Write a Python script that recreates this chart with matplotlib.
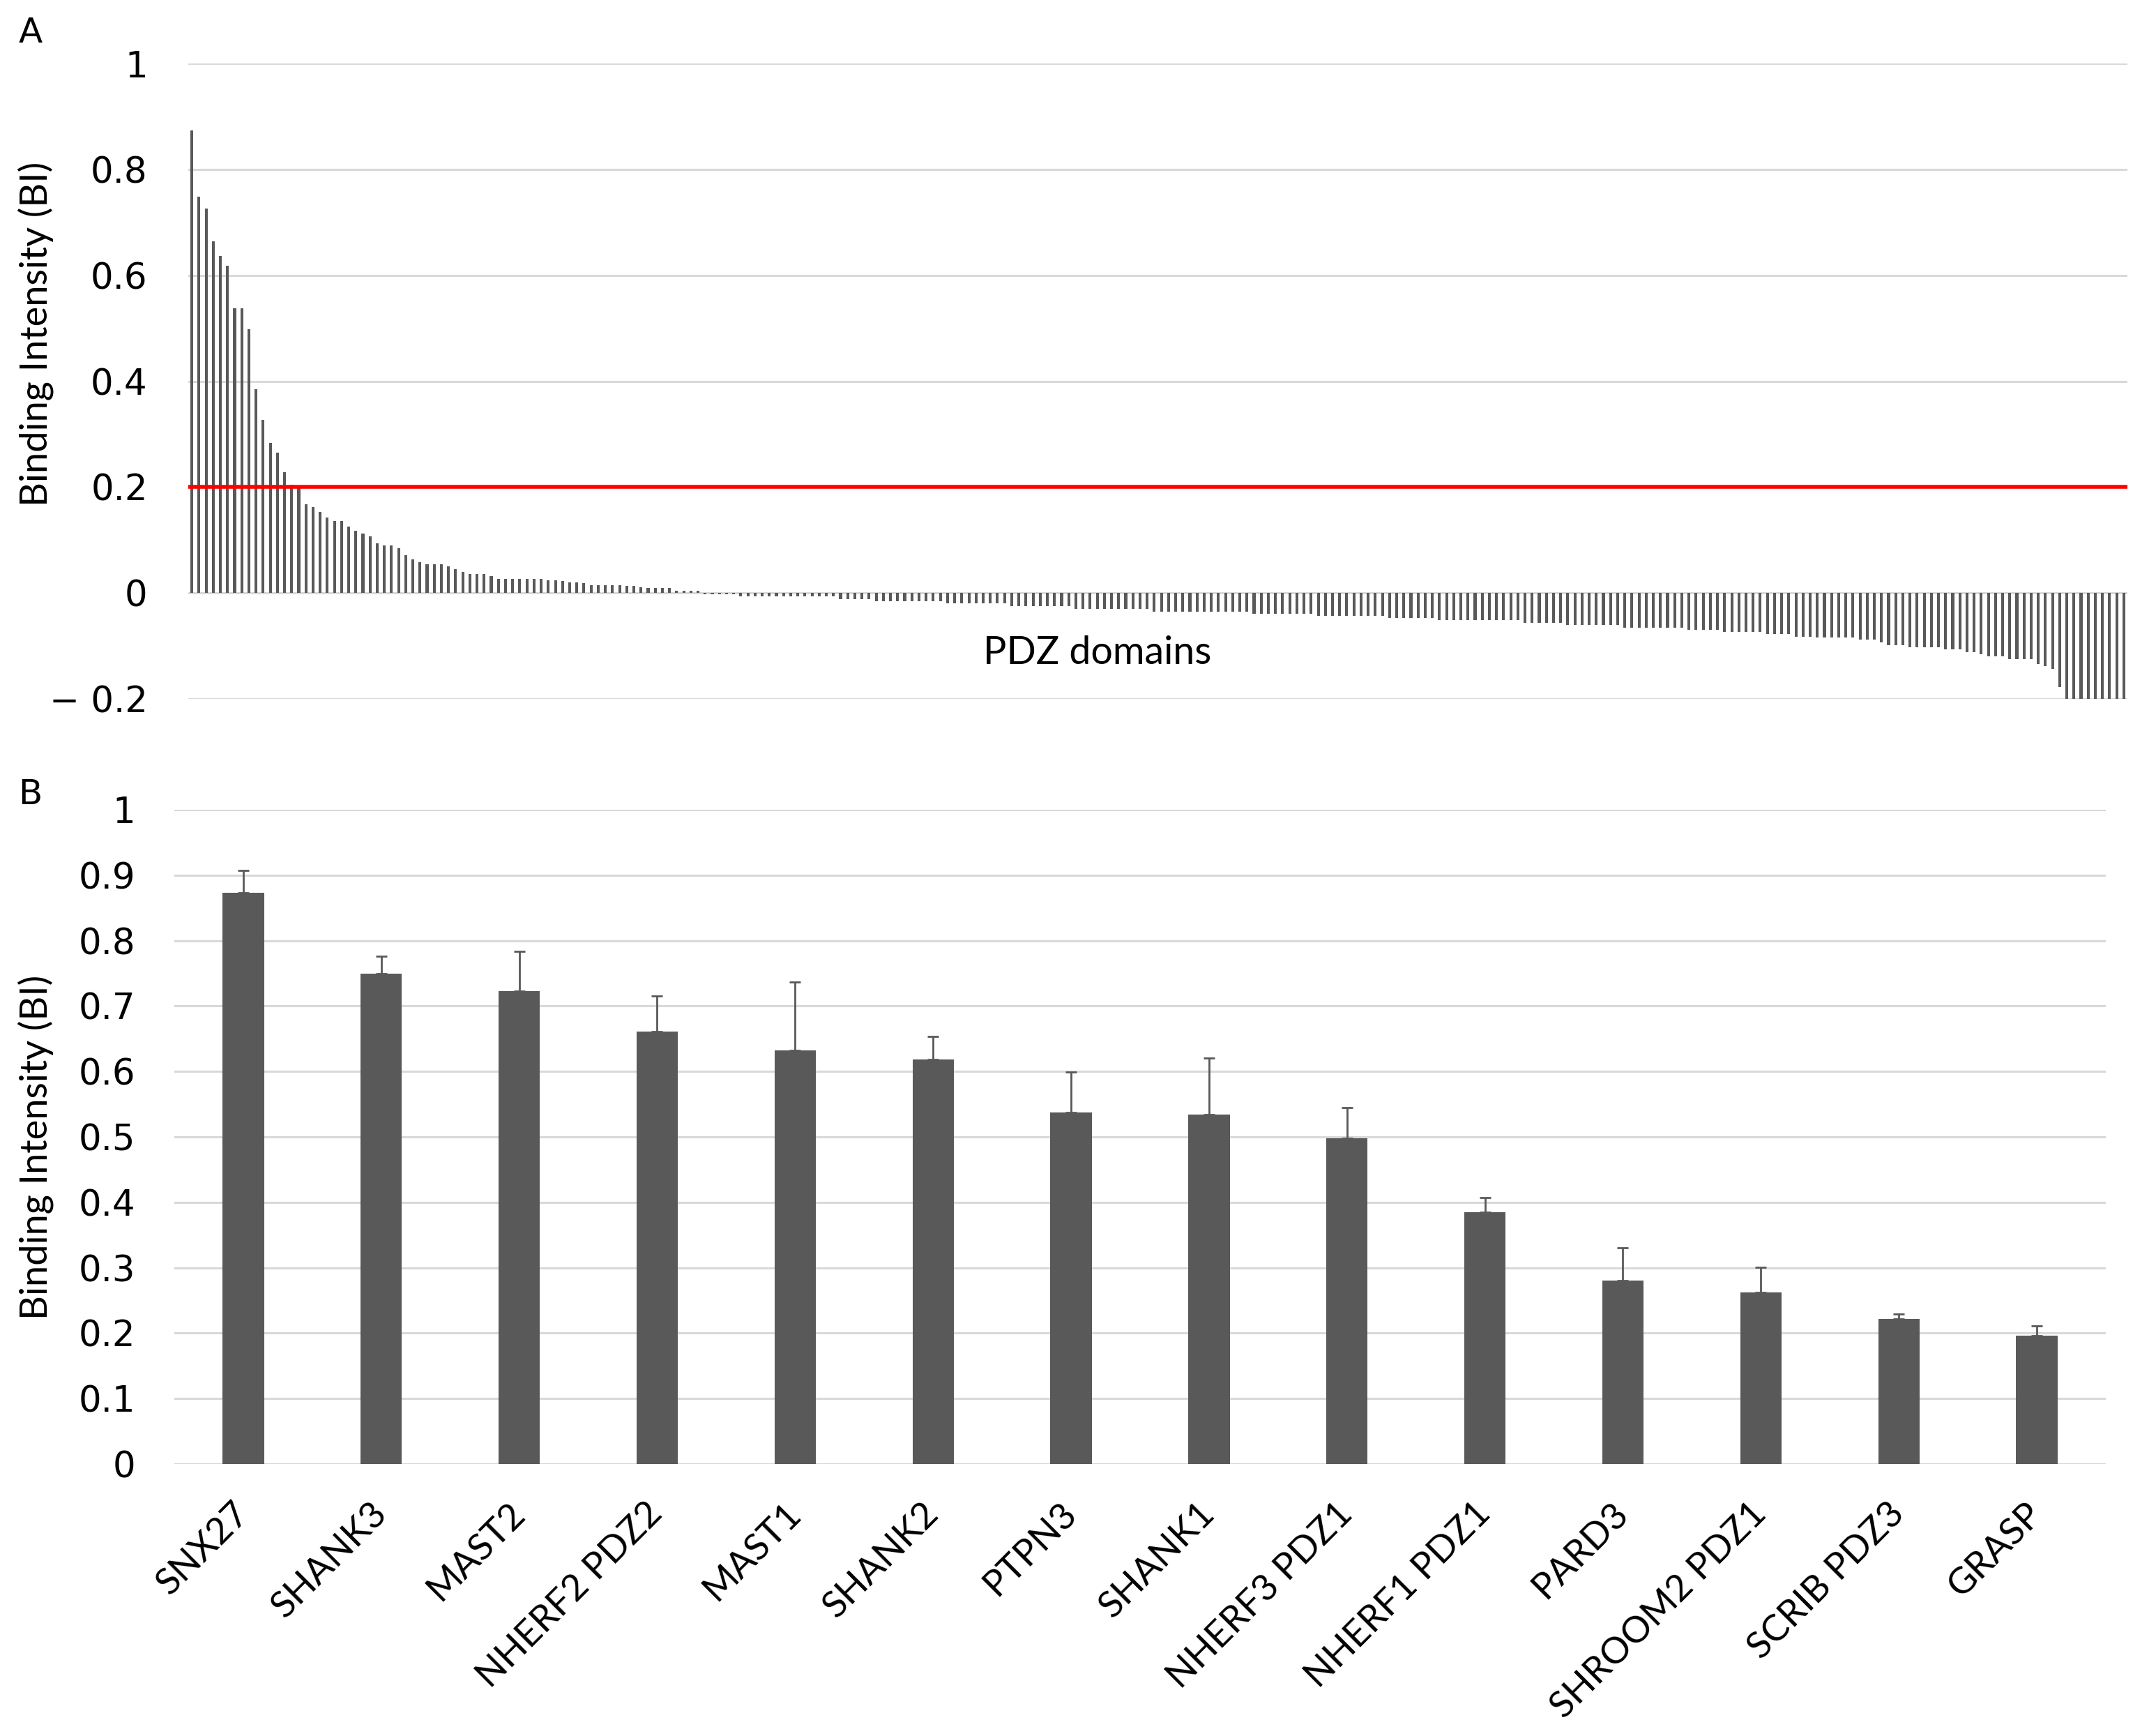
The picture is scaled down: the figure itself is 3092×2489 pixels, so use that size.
"""PDZ domain binding intensities: full screen (A) and hits above threshold (B)."""
import matplotlib.pyplot as plt
import matplotlib.ticker as tkr

plt.rcParams['font.family'] = ['DejaVu Sans']
label_font = ['Lato', 'DejaVu Sans']

bar_color = "#595959"
grid_color = "#d9d9d9"

# panel A: binding intensity of every PDZ domain, sorted
pdz_bi = [
    0.873, 0.748, 0.726, 0.664, 0.637, 0.618, 0.538, 0.538,
    0.498, 0.385, 0.327, 0.283, 0.265, 0.228, 0.205, 0.199,
    0.167, 0.162, 0.153, 0.143, 0.136, 0.136, 0.126, 0.117,
    0.112, 0.107, 0.094, 0.090, 0.090, 0.085, 0.072, 0.063,
    0.058, 0.054, 0.054, 0.054, 0.050, 0.045, 0.040, 0.036,
    0.036, 0.036, 0.032, 0.027, 0.027, 0.027, 0.027, 0.027,
    0.027, 0.026, 0.024, 0.024, 0.023, 0.020, 0.020, 0.019,
    0.015, 0.015, 0.015, 0.015, 0.015, 0.014, 0.013, 0.011,
    0.010, 0.010, 0.010, 0.010, 0.004, 0.004, 0.004, 0.004,
    -0.003, -0.003, -0.003, -0.003, -0.003, -0.007, -0.007, -0.007,
    -0.007, -0.007, -0.007, -0.007, -0.007, -0.007, -0.007, -0.007,
    -0.007, -0.007, -0.007, -0.012, -0.012, -0.012, -0.012, -0.012,
    -0.016, -0.016, -0.016, -0.016, -0.016, -0.016, -0.016, -0.016,
    -0.016, -0.016, -0.020, -0.020, -0.020, -0.020, -0.020, -0.020,
    -0.020, -0.020, -0.020, -0.025, -0.025, -0.025, -0.025, -0.025,
    -0.025, -0.025, -0.025, -0.025, -0.030, -0.030, -0.030, -0.030,
    -0.030, -0.030, -0.030, -0.030, -0.030, -0.030, -0.030, -0.035,
    -0.035, -0.035, -0.035, -0.035, -0.035, -0.035, -0.035, -0.035,
    -0.035, -0.035, -0.035, -0.035, -0.035, -0.039, -0.039, -0.039,
    -0.039, -0.039, -0.039, -0.039, -0.039, -0.039, -0.043, -0.043,
    -0.043, -0.043, -0.043, -0.043, -0.043, -0.043, -0.043, -0.043,
    -0.047, -0.047, -0.047, -0.047, -0.047, -0.047, -0.047, -0.051,
    -0.051, -0.051, -0.051, -0.051, -0.051, -0.051, -0.051, -0.051,
    -0.051, -0.051, -0.051, -0.057, -0.057, -0.057, -0.057, -0.057,
    -0.057, -0.061, -0.061, -0.061, -0.061, -0.061, -0.061, -0.061,
    -0.061, -0.065, -0.065, -0.065, -0.065, -0.065, -0.065, -0.065,
    -0.065, -0.065, -0.070, -0.070, -0.070, -0.070, -0.070, -0.074,
    -0.074, -0.074, -0.074, -0.074, -0.074, -0.078, -0.078, -0.078,
    -0.078, -0.083, -0.083, -0.083, -0.084, -0.084, -0.084, -0.084,
    -0.084, -0.084, -0.088, -0.088, -0.088, -0.093, -0.098, -0.098,
    -0.098, -0.103, -0.103, -0.103, -0.103, -0.103, -0.107, -0.107,
    -0.107, -0.112, -0.112, -0.116, -0.120, -0.120, -0.120, -0.125,
    -0.125, -0.125, -0.125, -0.134, -0.138, -0.143, -0.178, -0.21,
    -0.22, -0.24, -0.26, -0.29, -0.32, -0.36, -0.41, -0.48,
]
threshold = 0.2
ticks_a = [-0.2, 0, 0.2, 0.4, 0.6, 0.8, 1]

# panel B: domains above the threshold, mean and upper error
domains = ["SNX27", "SHANK3", "MAST2", "NHERF2 PDZ2", "MAST1", "SHANK2",
           "PTPN3", "SHANK1", "NHERF3 PDZ1", "NHERF1 PDZ1", "PARD3",
           "SHROOM2 PDZ1", "SCRIB PDZ3", "GRASP"]
bi_mean = [0.873, 0.749, 0.723, 0.661, 0.632, 0.618, 0.537, 0.534,
           0.498, 0.385, 0.280, 0.262, 0.222, 0.196]
bi_err = [0.034, 0.027, 0.061, 0.054, 0.105, 0.035, 0.062, 0.086,
          0.047, 0.022, 0.050, 0.039, 0.007, 0.015]
ticks_b = [0, 0.1, 0.2, 0.3, 0.4, 0.5, 0.6, 0.7, 0.8, 0.9, 1]


def fmt_tick(v, pos):
    if abs(v) < 1e-9:
        return "0"
    if abs(v - round(v)) < 1e-9:
        return "%d" % round(v)
    if v < 0:
        return "\u2212 %g" % abs(v)
    return "%g" % v


W, H = 3092, 2489
fig = plt.figure(figsize=(W / 200, H / 200), dpi=200)

# ---- panel A ----
axA = fig.add_axes([270 / W, 1 - 1002 / H, (3051 - 270) / W, (1002 - 91) / H])
xa = list(range(len(pdz_bi)))
axA.bar(xa, pdz_bi, width=0.4, color=bar_color, zorder=2)
axA.axhline(threshold, color="#ff0000", linewidth=2.0, zorder=3)
axA.set_xlim(-0.5, len(pdz_bi) - 0.5)
axA.set_ylim(-0.2, 1)
axA.set_yticks(ticks_a)
axA.yaxis.set_major_formatter(tkr.FuncFormatter(fmt_tick))
axA.set_xticks([])
axA.grid(axis='y', color=grid_color, linewidth=1.1, zorder=0)
axA.set_axisbelow(True)
axA.tick_params(axis='y', length=0, pad=21, labelsize=18.5)
for s in axA.spines.values():
    s.set_visible(False)
fig.text(1574 / W, 1 - 937 / H, "PDZ domains", ha='center', va='center',
         fontsize=20, family=label_font)

# ---- panel B ----
axB = fig.add_axes([250 / W, 1 - 2099 / H, (3020 - 250) / W, (2099 - 1161) / H])
xb = list(range(len(domains)))
axB.bar(xb, bi_mean, width=0.3, color=bar_color, zorder=2,
        yerr=[[0] * len(bi_err), bi_err],
        error_kw=dict(ecolor=bar_color, elinewidth=1.0, capsize=3,
                      capthick=1.0))
axB.set_xlim(-0.5, len(domains) - 0.5)
axB.set_ylim(0, 1)
axB.set_yticks(ticks_b)
axB.yaxis.set_major_formatter(tkr.FuncFormatter(fmt_tick))
axB.set_xticks(xb)
axB.set_xticklabels(domains, rotation=45, ha='right', va='center',
                    rotation_mode='anchor', fontsize=19, family=label_font)
axB.grid(axis='y', color=grid_color, linewidth=1.1, zorder=0)
axB.set_axisbelow(True)
axB.tick_params(axis='y', length=0, pad=20, labelsize=18.5)
axB.tick_params(axis='x', length=0, pad=23)
for s in axB.spines.values():
    s.set_visible(False)

# axis titles and panel letters
for yc in (479, 1645):
    fig.text(51 / W, 1 - yc / H, "Binding Intensity (BI)", rotation=90,
             ha='center', va='center', fontsize=19.5, family=label_font)
fig.text(44 / W, 1 - 47 / H, "A", ha='center', va='center', fontsize=18)
fig.text(43 / W, 1 - 1139 / H, "B", ha='center', va='center', fontsize=18)

fig.savefig("out.png", dpi=200)
